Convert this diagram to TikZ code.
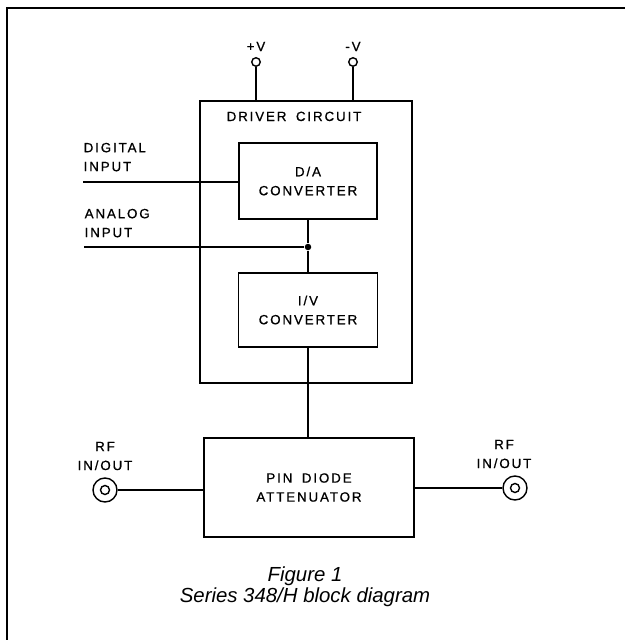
\documentclass[tikz,border=0pt]{standalone}
\usepackage{fontspec}
\setmainfont{Liberation Sans}
\newfontfamily\blockfont[LetterSpace=14, WordSpace=1.7, FakeBold=0.8]{Liberation Sans}
\usetikzlibrary{positioning, calc}

\begin{document}
\begin{tikzpicture}[
        x=0.02cm, y=-0.02cm,
        line width=0.8pt,
        lbl/.style={font=\blockfont\fontsize{7.6}{10.8}\selectfont, inner sep=0pt, align=center},
        block/.style={draw, rectangle, align=center, font=\blockfont\fontsize{7.6}{10.8}\selectfont},
        term/.style={draw, circle, inner sep=0pt, minimum size=0.17cm, fill=white},
        jack/.style={draw, circle, inner sep=0pt, minimum size=0.48cm, fill=white},
        jackpin/.style={draw, circle, inner sep=0pt, minimum size=0.18cm},
        junction/.style={circle, fill, inner sep=0pt, minimum size=0.13cm}
    ]
        \useasboundingbox (0,0) rectangle (625,640);
        % Frame
        \draw[line width=1.1pt] (7,640) -- (7,8) -- (625,8);

        % Nodes
        \node[block, minimum width=4.24cm, minimum height=5.64cm] (drv) at (306,242) {};
        \node[lbl, anchor=base] (drvlbl) at (294,121) {DRIVER CIRCUIT};
        \node[block, minimum width=2.76cm, minimum height=1.52cm] (da) at (308,181) {D/A\\CONVERTER};
        \node[block, minimum width=2.78cm, minimum height=1.48cm] (iv) at (308,310) {I/V\\CONVERTER};
        \node[block, minimum width=4.2cm, minimum height=1.98cm] (pin) at (309,487.5) {PIN DIODE\\ATTENUATOR};
        \node[junction] (junc) at (308,247) {};

        \node[term] (vp) at (256,62) {};
        \node[term] (vm) at (353,62) {};
        \node[lbl, anchor=base] (vplbl) at (256,51) {+V};
        \node[lbl, anchor=base] (vmlbl) at (353,51) {-V};

        \coordinate (digin) at (83,182);
        \coordinate (anain) at (84,247);
        \node[lbl, anchor=south west, align=left] (diglbl) at (83,172) {DIGITAL\\INPUT};
        \node[lbl, anchor=south west, align=left] (analbl) at (84,238) {ANALOG\\INPUT};

        \node[jack] (jackl) at (105,490) {};
        \node[jackpin] (jackli) at (jackl) {};
        \node[jack] (jackr) at (515,488) {};
        \node[jackpin] (jackri) at (jackr) {};
        \node[lbl] (rfl) at (105,456) {RF\\IN/OUT};
        \node[lbl] (rfr) at (504,454) {RF\\IN/OUT};

        \node[font=\itshape\fontsize{11.6}{12.2}\selectfont, align=center] (cap) at (305,587) {Figure 1\\Series 348/H block diagram};

        % Edges
        \draw (vp) -- (vp |- drv.north);
        \draw (vm) -- (vm |- drv.north);
        \draw (digin) -- (digin -| da.west);
        \draw (anain) -- (junc);
        \draw (da) -- (junc) -- (iv);
        \draw (iv.south) -- (iv.south |- pin.north);
        \draw (jackl) -- (jackl -| pin.west);
        \draw (pin.east |- jackr) -- (jackr);
    \end{tikzpicture}
\end{document}
